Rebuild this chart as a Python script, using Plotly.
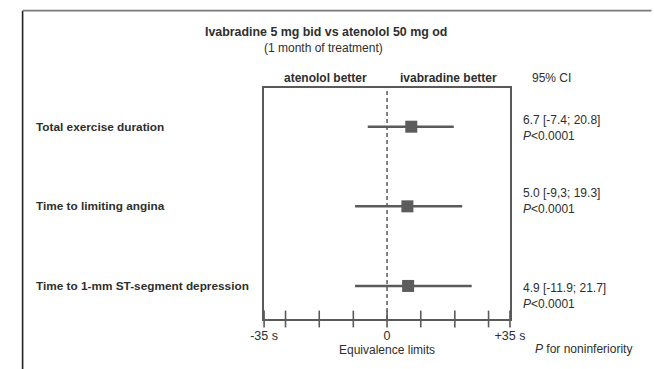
import plotly.graph_objects as go

# ---- data ----
outcomes = ["Total exercise duration", "Time to limiting angina", "Time to 1-mm ST-segment depression"]
estimates = [6.9, 5.8, 6.0]          # drawn point estimates (s)
ci_low = [-5.5, -9.1, -9.1]          # drawn lower CI ends (s)
ci_high = [19.0, 21.4, 24.1]         # drawn upper CI ends (s)
ci_text = ["6.7 [-7.4; 20.8]", "5.0 [-9,3; 19.3]", "4.9 [-11.9; 21.7]"]
p_text = ["<i>P</i><0.0001", "<i>P</i><0.0001", "<i>P</i><0.0001"]
tick_positions = [-35, -28.9, -19.3, -9.6, 0, 9.6, 19.3, 28.9, 35]
tick_labels = ["-35 s", "", "", "", "0", "", "", "", "+35 s"]
x_range = [-35, 35]

FONT = "Liberation Sans, Arial, sans-serif"
DARK = "#2e2e2e"
LINE = "#5a5a5a"

rows = list(range(len(outcomes)))
W, H = 654, 369
y_bottom, y_top = 2.415, -0.486

fig = go.Figure()

# CI lines
for i in rows:
    fig.add_trace(go.Scatter(
        x=[ci_low[i], ci_high[i]], y=[rows[i], rows[i]], mode="lines",
        line=dict(color=LINE, width=2.5), showlegend=False, hoverinfo="skip"))

# point estimates
fig.add_trace(go.Scatter(
    x=estimates, y=rows, mode="markers",
    marker=dict(symbol="square", size=12, color="#5c5c5c"),
    showlegend=False, hoverinfo="skip"))

# crossing tick marks on the bottom axis
fig.add_trace(go.Scatter(
    x=tick_positions, y=[y_bottom] * len(tick_positions), mode="markers",
    marker=dict(symbol="line-ns", size=12, line=dict(color=LINE, width=1.6)),
    cliponaxis=False, showlegend=False, hoverinfo="skip"))

fig.update_xaxes(
    domain=[261.7 / W, 519 / W], range=x_range,
    tickmode="array", tickvals=tick_positions, ticktext=tick_labels,
    ticks="", showgrid=False, zeroline=False,
    showline=True, linecolor=LINE, linewidth=1.6, mirror=True,
    tickfont=dict(family=FONT, size=12.5, color=DARK), ticklabelstandoff=4)
fig.update_yaxes(
    domain=[(H - 319) / H, (H - 88) / H], range=[y_bottom, y_top],
    showticklabels=False, ticks="", showgrid=False, zeroline=False,
    showline=True, linecolor=LINE, linewidth=1.6, mirror=True)

# dashed zero line
fig.add_shape(type="line", xref="x", yref="y domain", x0=0, x1=0, y0=0, y1=1,
              line=dict(color=LINE, width=1.5, dash="4px,3px"))

# outer frame (left and top edges)
fig.add_shape(type="line", xref="paper", yref="paper",
              x0=9 / W, x1=9 / W, y0=-0.05, y1=(H - 10.7) / H,
              line=dict(color="#222222", width=1.6))
fig.add_shape(type="line", xref="paper", yref="paper",
              x0=9 / W, x1=1.02, y0=(H - 10.7) / H, y1=(H - 10.7) / H,
              line=dict(color="#777777", width=1.8))

def px_y(py):
    return (H - py) / H

def ann(text, x, y, size=12, bold=False, xanchor="center", xref="paper", yref="paper", yshift=0):
    t = f"<b>{text}</b>" if bold else text
    fig.add_annotation(text=t, x=x, y=y, xref=xref, yref=yref, showarrow=False,
                       xanchor=xanchor, yanchor="middle", yshift=yshift, borderpad=0,
                       font=dict(family=FONT, size=size, color=DARK))

ann("Ivabradine 5 mg bid vs atenolol 50 mg od", 326 / W, px_y(32), size=12.4, bold=True)
ann("(1 month of treatment)", 324 / W, px_y(48), size=12)
ann("atenolol better", -17.5, px_y(78), size=12, bold=True, xref="x")
ann("ivabradine better", 17.5, px_y(78), size=12, bold=True, xref="x")
ann("95% CI", 562 / W, px_y(78), size=12)
ann("Equivalence limits", 0, px_y(350), size=12, xref="x")
ann("<i>P</i> for noninferiority", 648 / W, px_y(349), size=12, xanchor="right")

text_shift = [-1, 5, -10]
for i in rows:
    ann(outcomes[i], 22 / W, rows[i], size=11.8, bold=True, xanchor="left", yref="y")
    fig.add_annotation(text=ci_text[i] + "<br>" + p_text[i], x=532 / W, y=rows[i],
                       xref="paper", yref="y", showarrow=False, xanchor="left",
                       yanchor="middle", align="left", yshift=text_shift[i], borderpad=0,
                       font=dict(family=FONT, size=12, color=DARK))

fig.update_layout(width=W, height=H, margin=dict(l=0, r=0, t=0, b=0),
                  paper_bgcolor="white", plot_bgcolor="white")

fig.write_html("out.html")
